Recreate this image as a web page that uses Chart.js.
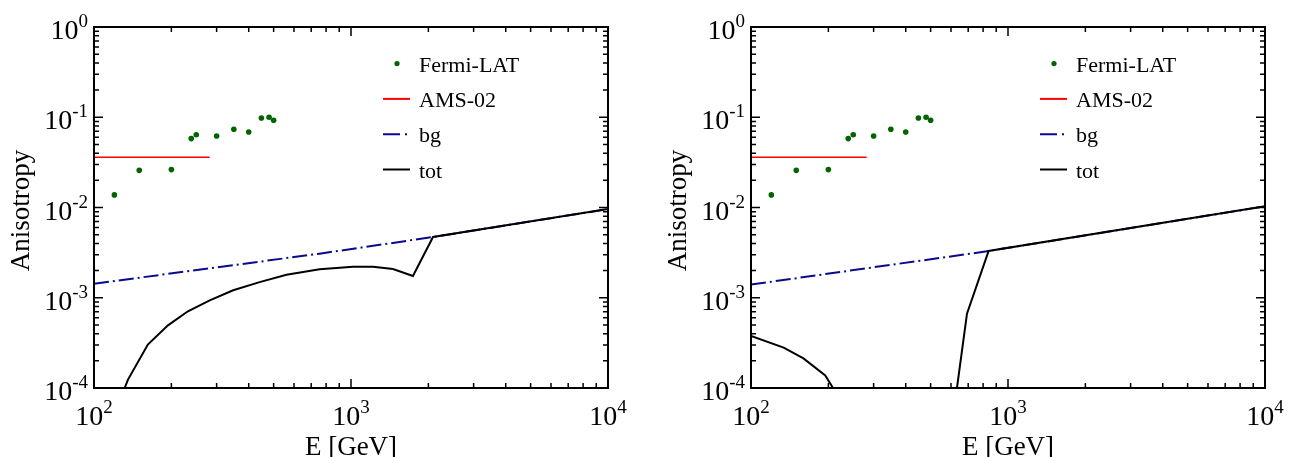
<!DOCTYPE html>
<html>
<head>
<meta charset="utf-8">
<script src="https://cdn.jsdelivr.net/npm/chart.js@4"></script>
<style>
html, body { margin: 0; padding: 0; background: #fff; }
#wrap { width: 1294px; height: 457px; display: flex; }
canvas { display: block; }
</style>
</head>
<body>
<div id="wrap">
  <canvas id="left" width="647" height="457"></canvas>
  <canvas id="right" width="647" height="457"></canvas>
</div>
<script>
// data (E in GeV, anisotropy)
var fermiE = [120, 150, 200, 239, 250, 300, 350, 400, 448, 480, 500];
var fermiA = [0.0138, 0.0258, 0.0263, 0.058, 0.064, 0.062, 0.0735, 0.0687, 0.098, 0.100, 0.0925];

var amsE = [100, 282];
var amsA = [0.036, 0.036];

// left panel
var bgE_L = [100, 755, 2085, 10000];
var bgA_L = [0.00143, 0.00308, 0.00471, 0.0096];
var totE_L = [131.6, 135.6, 162, 194, 232, 282, 348, 441, 561, 755, 1018, 1218, 1457, 1742, 2085, 10000];
var totA_L = [0.0001, 0.000124, 0.000303, 0.000495, 0.000708, 0.000937, 0.00121, 0.00149, 0.0018, 0.00207, 0.00221, 0.00221, 0.00208, 0.00174, 0.00471, 0.0096];

// right panel (null = curve goes below 1e-4)
var bgE_R = [100, 713, 840.6, 10000];
var bgA_R = [0.0014, 0.00308, 0.0033, 0.0103];
var totE_R = [100, 134, 160, 194.5, 208.5, 400, 633, 692.5, 840.6, 10000];
var totA_R = [0.000377, 0.00028, 0.000213, 0.000138, 0.0001, null, 0.0001, 0.000667, 0.0033, 0.0103];

var xTicks = [1e2, 1e3, 1e4];
var yTicks = [1e-4, 1e-3, 1e-2, 1e-1, 1];

var FONT = "'Liberation Serif', 'Times New Roman', serif";

function pts(xs, ys) {
    var out = [];
    for (var i = 0; i < xs.length; i++) {
        out.push({x: xs[i], y: ys[i]});
    }
    return out;
}

function powLabel(ctx, exp, x, y, align) {
    ctx.font = '28px ' + FONT;
    var w1 = ctx.measureText('10').width;
    ctx.font = '19px ' + FONT;
    var w2 = ctx.measureText(exp).width;
    var x0 = align == 'center' ? x - (w1 + w2) / 2 : x - (w1 + w2);
    ctx.textAlign = 'left';
    ctx.textBaseline = 'alphabetic';
    ctx.font = '28px ' + FONT;
    ctx.fillText('10', x0, y);
    ctx.font = '19px ' + FONT;
    ctx.fillText(exp, x0 + w1, y - 12);
}

var legendItems = [
    {label: 'Fermi-LAT', kind: 'dot', color: '#006400'},
    {label: 'AMS-02', kind: 'line', color: '#ff0000', dash: []},
    {label: 'bg', kind: 'line', color: '#0a0a8c', dash: [17, 5, 2, 6]},
    {label: 'tot', kind: 'line', color: '#000000', dash: []}
];

var framePlugin = {
    id: 'frame',
    afterDraw: function(chart) {
        var ctx = chart.ctx, a = chart.chartArea;
        var sx = chart.scales.x, sy = chart.scales.y;
        ctx.save();
        ctx.strokeStyle = '#000';
        ctx.fillStyle = '#000';

        // minor + major ticks, pointing inward on all sides
        ctx.lineWidth = 1.5;
        ctx.beginPath();
        xTicks.forEach(function(d, i) {
            for (var m = 1; m < 10; m++) {
                var v = d * m;
                if (v > xTicks[xTicks.length - 1]) break;
                var px = sx.getPixelForValue(v);
                var len = m == 1 ? 9 : 5;
                ctx.moveTo(px, a.bottom); ctx.lineTo(px, a.bottom - len);
                ctx.moveTo(px, a.top); ctx.lineTo(px, a.top + len);
            }
        });
        yTicks.forEach(function(d) {
            for (var m = 1; m < 10; m++) {
                var v = d * m;
                if (v > yTicks[yTicks.length - 1] * 1.0001) break;
                var py = sy.getPixelForValue(v);
                var len = m == 1 ? 9 : 5;
                ctx.moveTo(a.left, py); ctx.lineTo(a.left + len, py);
                ctx.moveTo(a.right, py); ctx.lineTo(a.right - len, py);
            }
        });
        ctx.stroke();

        ctx.lineWidth = 2;
        ctx.strokeRect(a.left, a.top, a.width, a.height);

        // tick labels
        xTicks.forEach(function(v) {
            powLabel(ctx, String(Math.round(Math.log10(v))), sx.getPixelForValue(v), a.bottom + 37, 'center');
        });
        yTicks.forEach(function(v) {
            powLabel(ctx, String(Math.round(Math.log10(v))), a.left - 6, sy.getPixelForValue(v) + 12, 'right');
        });

        // axis titles
        ctx.font = '27px ' + FONT;
        ctx.textAlign = 'center';
        ctx.textBaseline = 'alphabetic';
        ctx.fillText('E [GeV]', (a.left + a.right) / 2, 455);
        ctx.save();
        ctx.translate(a.left - 65, a.top + a.height / 2 + 3);
        ctx.rotate(-Math.PI / 2);
        ctx.fillText('Anisotropy', 0, 0);
        ctx.restore();

        // legend
        ctx.font = '22px ' + FONT;
        ctx.textAlign = 'left';
        legendItems.forEach(function(it, i) {
            var y = a.top + 36.6 + i * 35.3;
            if (it.kind == 'dot') {
                ctx.fillStyle = it.color;
                ctx.beginPath();
                ctx.arc(a.left + 303, y, 2.6, 0, Math.PI * 2);
                ctx.fill();
            } else {
                ctx.strokeStyle = it.color;
                ctx.lineWidth = 2;
                ctx.setLineDash(it.dash);
                ctx.beginPath();
                ctx.moveTo(a.left + 289, y);
                ctx.lineTo(a.left + 316, y);
                ctx.stroke();
                ctx.setLineDash([]);
            }
            ctx.fillStyle = '#000';
            ctx.fillText(it.label, a.left + 325, y + 8);
        });
        ctx.restore();
    }
};

function makePanel(id, bgE, bgA, totE, totA, pad) {
    var ctx = document.getElementById(id).getContext('2d');
    return new Chart(ctx, {
        type: 'scatter',
        data: {
            datasets: [
                {
                    label: 'tot',
                    data: pts(totE, totA),
                    showLine: true,
                    spanGaps: false,
                    borderColor: '#000',
                    borderWidth: 2,
                    pointRadius: 0,
                    order: 0
                },
                {
                    label: 'bg',
                    data: pts(bgE, bgA),
                    showLine: true,
                    borderColor: '#0a0a8c',
                    borderWidth: 2,
                    borderDash: [15, 4, 2, 4],
                    pointRadius: 0,
                    order: 1
                },
                {
                    label: 'AMS-02',
                    data: pts(amsE, amsA),
                    showLine: true,
                    borderColor: '#ff0000',
                    borderWidth: 1.6,
                    pointRadius: 0,
                    order: 2
                },
                {
                    label: 'Fermi-LAT',
                    data: pts(fermiE, fermiA),
                    showLine: false,
                    pointRadius: 2.8,
                    pointBorderWidth: 0,
                    pointBackgroundColor: '#006400',
                    order: 3
                }
            ]
        },
        options: {
            responsive: false,
            animation: false,
            layout: { padding: pad },
            plugins: {
                legend: { display: false },
                tooltip: { enabled: false }
            },
            scales: {
                x: { type: 'logarithmic', min: 100, max: 10000, display: false },
                y: { type: 'logarithmic', min: 1e-4, max: 1, display: false }
            }
        },
        plugins: [framePlugin]
    });
}

makePanel('left', bgE_L, bgA_L, totE_L, totA_L, {left: 94, right: 39, top: 27, bottom: 69});
makePanel('right', bgE_R, bgA_R, totE_R, totA_R, {left: 104, right: 29, top: 27, bottom: 69});
</script>
</body>
</html>
